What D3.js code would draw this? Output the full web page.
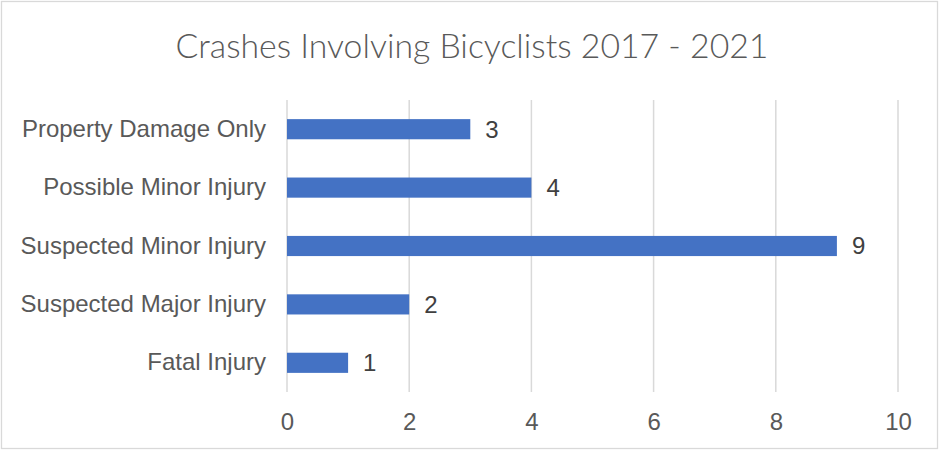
<!DOCTYPE html>
<html>
<head>
<meta charset="utf-8">
<script src="https://cdn.jsdelivr.net/npm/d3@7"></script>
<style>
  html, body { margin: 0; padding: 0; background: #fff; }
  svg { display: block; }
</style>
</head>
<body>
<div id="chart"></div>
<script>
// data
var categories = ['Property Damage Only', 'Possible Minor Injury', 'Suspected Minor Injury', 'Suspected Major Injury', 'Fatal Injury'];
var crashes = [3, 4, 9, 2, 1];
var xTicks = [0, 2, 4, 6, 8, 10];
var title = 'Crashes Involving Bicyclists 2017 - 2021';

var W = 942, H = 451;
var margin = {top: 100, left: 287, right: 44, bottom: 59};

var svg = d3.select('#chart').append('svg')
    .attr('width', W)
    .attr('height', H);

// chart border
svg.append('rect')
    .attr('x', 1.5).attr('y', 1.5)
    .attr('width', 936).attr('height', 447)
    .attr('fill', '#fff')
    .attr('stroke', '#d9d9d9')
    .attr('stroke-width', 1.3);

var x = d3.scaleLinear()
    .domain([0, 10])
    .range([margin.left, W - margin.right]);

var y = d3.scaleBand()
    .domain(categories)
    .range([margin.top, H - margin.bottom])
    .paddingInner(0.655)
    .paddingOuter(0.3275);

// gridlines
svg.append('g').selectAll('line')
    .data(xTicks)
    .enter().append('line')
    .attr('x1', function(d) { return x(d); })
    .attr('x2', function(d) { return x(d); })
    .attr('y1', margin.top)
    .attr('y2', H - margin.bottom)
    .attr('stroke', '#d9d9d9')
    .attr('stroke-width', 1.5);

// x axis labels
var xAxis = svg.append('g')
    .attr('transform', 'translate(0,' + (H - margin.bottom) + ')')
    .call(d3.axisBottom(x).tickValues(xTicks).tickSize(0).tickPadding(21));
xAxis.select('.domain').remove();
xAxis.selectAll('text')
    .attr('fill', '#595959')
    .style('font-family', '"Liberation Sans", Arial, sans-serif')
    .style('font-size', '24px');

// y axis labels
var yAxis = svg.append('g')
    .attr('transform', 'translate(' + margin.left + ',0)')
    .call(d3.axisLeft(y).tickSize(0).tickPadding(21));
yAxis.select('.domain').remove();
yAxis.selectAll('text')
    .attr('fill', '#595959')
    .style('font-family', '"Liberation Sans", Arial, sans-serif')
    .style('font-size', '24px');

// bars
svg.append('g').selectAll('rect')
    .data(crashes)
    .enter().append('rect')
    .attr('x', x(0))
    .attr('y', function(d, i) { return y(categories[i]); })
    .attr('width', function(d) { return x(d) - x(0); })
    .attr('height', y.bandwidth())
    .attr('fill', '#4472c4');

// value labels
svg.append('g').selectAll('text')
    .data(crashes)
    .enter().append('text')
    .attr('x', function(d) { return x(d) + 15; })
    .attr('y', function(d, i) { return y(categories[i]) + y.bandwidth() / 2; })
    .attr('dy', '0.35em')
    .attr('fill', '#404040')
    .style('font-family', '"Liberation Sans", Arial, sans-serif')
    .style('font-size', '24px')
    .text(function(d) { return d; });

// title
svg.append('text')
    .attr('x', 472)
    .attr('y', 58)
    .attr('text-anchor', 'middle')
    .attr('fill', '#595959')
    .style('font-family', 'Lato, "Open Sans", sans-serif')
    .style('font-weight', 300)
    .style('font-size', '33.8px')
    .text(title);
</script>
</body>
</html>
